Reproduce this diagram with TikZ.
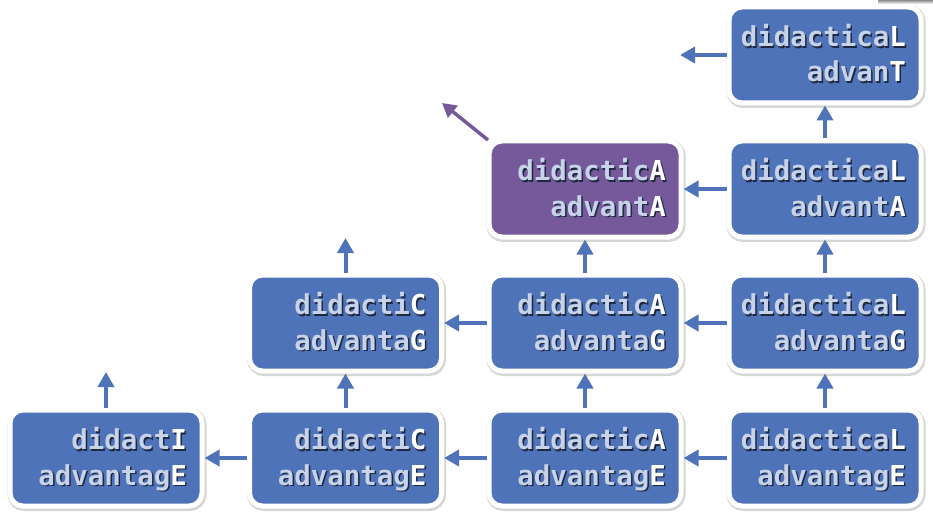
\documentclass[tikz,border=0pt]{standalone}
\usepackage{fontspec}
\newfontfamily\mymono{DejaVu Sans Mono}
\usetikzlibrary{arrows.meta,shadows,calc}
\definecolor{boxblue}{RGB}{79,115,184}
\definecolor{boxpurple}{RGB}{117,89,155}
\definecolor{txtc}{RGB}{199,211,233}
\definecolor{txtsh}{RGB}{30,40,65}
\newcommand\shtxt[2]{\makebox[0pt][l]{\hspace{1.6pt}\raisebox{-1.6pt}{\color{txtsh}#1#2}}{\color{txtc}#1}{\color{white}#2}}
\tikzset{
  box/.style={rectangle, rounded corners=13pt, draw=white, line width=5pt, fill=boxblue,
    minimum width=192pt, minimum height=96pt, inner sep=0pt,
    drop shadow={shadow xshift=1pt, shadow yshift=-1.5pt, opacity=1, fill=black!16, draw=black!16, line width=7pt}},
  purplebox/.style={fill=boxpurple},
  lbl/.style={anchor=base east, inner sep=0pt, font=\mymono\bfseries\fontsize{27.4}{33}\selectfont},
  conn/.style={draw=boxblue, line width=4pt, -{Triangle[width=16pt,length=15pt]}},
  pconn/.style={draw=boxpurple, line width=3.5pt, -{Triangle[width=15pt,length=14pt]}},
}
\newcommand\boxat[8][]{%
  \node[box,#1] (#2) at (#3,#4) {};
  \node[lbl] (#2-t) at ([xshift=81pt,yshift=8.5pt]#2.center) {\shtxt{#5}{#6}};
  \node[lbl] (#2-b) at ([xshift=81pt,yshift=-27pt]#2.center) {\shtxt{#7}{#8}};
}
\begin{document}
\begin{tikzpicture}[x=1pt,y=-1pt]
\useasboundingbox (0,0) rectangle (933,513);
\shade[top color=black!45, bottom color=white] (878,0) rectangle (933,4);
% row 4
\boxat{r4a}{106}{458}{didact}{I}{advantag}{E}
\boxat{r4b}{345.5}{458}{didacti}{C}{advantag}{E}
\boxat{r4c}{585}{458}{didactic}{A}{advantag}{E}
\boxat{r4d}{825}{458}{didactica}{L}{advantag}{E}
% row 3
\boxat{r3b}{345.5}{323}{didacti}{C}{advanta}{G}
\boxat{r3c}{585}{323}{didactic}{A}{advanta}{G}
\boxat{r3d}{825}{323}{didactica}{L}{advanta}{G}
% row 2
\boxat[purplebox]{r2c}{585}{189}{didactic}{A}{advant}{A}
\boxat{r2d}{825}{189}{didactica}{L}{advant}{A}
% row 1
\boxat{r1d}{825}{55}{didactica}{L}{advan}{T}
% free ends
\coordinate (e1) at (106,372);
\coordinate (e2) at (345.5,238);
\coordinate (e3) at (680,55);
\coordinate (e4) at (442,103);
% horizontal
\draw[conn] (r4d) -- (r4c);
\draw[conn] (r4c) -- (r4b);
\draw[conn] (r4b) -- (r4a);
\draw[conn] (r3d) -- (r3c);
\draw[conn] (r3c) -- (r3b);
\draw[conn] (r2d) -- (r2c);
\draw[conn] (r1d.west) -- (e3);
% vertical
\draw[conn] (r4b) -- (r3b);
\draw[conn] (r4c) -- (r3c);
\draw[conn] (r4d) -- (r3d);
\draw[conn] (r3c) -- (r2c);
\draw[conn] (r3d) -- (r2d);
\draw[conn] (r2d) -- (r1d);
\draw[conn] (r4a.north) -- (e1);
\draw[conn] (r3b.north) -- (e2);
% diagonal
\draw[pconn] ([shift={(1.5,1.5)}]r2c.north west) -- (e4);
\end{tikzpicture}
\end{document}
